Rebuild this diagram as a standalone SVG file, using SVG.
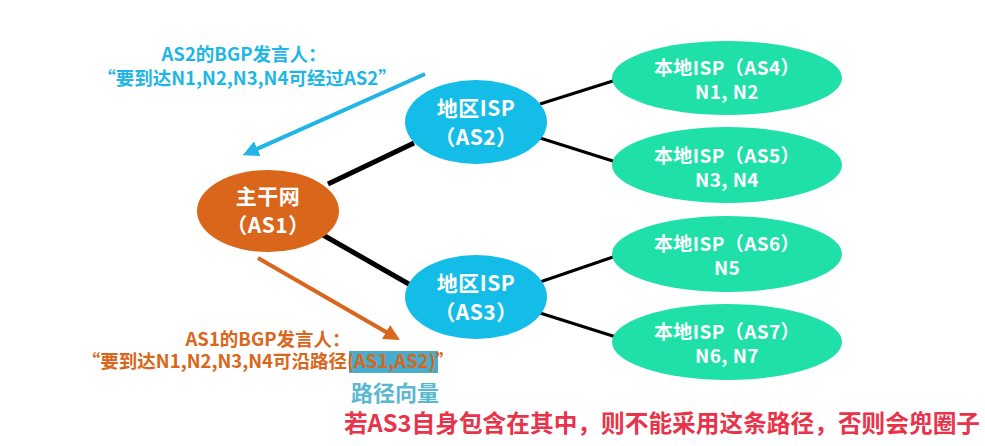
<svg xmlns="http://www.w3.org/2000/svg" width="985" height="446" viewBox="0 0 985 446">
<defs>
<style>
text{font-family:"Noto Sans CJK SC","Liberation Sans",sans-serif;font-weight:bold;text-anchor:middle}
.nt{fill:#fff;font-size:21px;letter-spacing:0.5px}
.gt{fill:#fff;font-size:19px;letter-spacing:0.4px}
.bl{fill:#1fb6e6;font-size:18.5px}
.or{fill:#d9661a;font-size:18.5px}
.thick{stroke:#000;stroke-width:5;fill:none}
.thin{stroke:#000;stroke-width:3;fill:none}
</style>
<marker id="ab" viewBox="0 0 10 10" refX="5" refY="5" markerWidth="4" markerHeight="4" orient="auto" markerUnits="strokeWidth"><path d="M0,0 L10,5 L0,10 Z" fill="#1fb6e6"/></marker>
<marker id="ao" viewBox="0 0 10 10" refX="5" refY="5" markerWidth="4" markerHeight="4" orient="auto" markerUnits="strokeWidth"><path d="M0,0 L10,5 L0,10 Z" fill="#d9661a"/></marker>
</defs>
<rect width="985" height="446" fill="#fff"/>
<g id="connectors">
<line class="thick" x1="328" y1="184" x2="414" y2="143"/>
<line class="thick" x1="323" y1="235" x2="414" y2="287"/>
<line class="thin" x1="540" y1="104" x2="616" y2="80"/>
<line class="thin" x1="540" y1="138" x2="616" y2="162"/>
<line class="thin" x1="540" y1="282" x2="616" y2="256"/>
<line class="thin" x1="540" y1="313" x2="616" y2="337"/>
<line x1="425" y1="74" x2="250" y2="152" stroke="#1fb6e6" stroke-width="4" marker-end="url(#ab)"/>
<line x1="258" y1="258" x2="393" y2="336" stroke="#d9661a" stroke-width="4" marker-end="url(#ao)"/>
</g>
<g id="AS1"><ellipse cx="268" cy="211" rx="71" ry="41" fill="#d9661a"/><text class="nt" x="268" y="204">主干网</text><text class="nt" x="268" y="233">（AS1）</text></g>
<g id="AS2"><ellipse cx="476" cy="122" rx="71" ry="42" fill="#14bde8"/><text class="nt" x="476" y="116">地区ISP</text><text class="nt" x="476" y="145">（AS2）</text></g>
<g id="AS3"><ellipse cx="476" cy="297" rx="71" ry="42" fill="#14bde8"/><text class="nt" x="476" y="291">地区ISP</text><text class="nt" x="476" y="320">（AS3）</text></g>
<g id="AS4"><ellipse cx="727" cy="78" rx="115" ry="37" fill="#1ee0a8"/><text class="gt" x="727" y="75">本地ISP（AS4）</text><text class="gt" x="727" y="99">N1, N2</text></g>
<g id="AS5"><ellipse cx="727" cy="165" rx="115" ry="38" fill="#1ee0a8"/><text class="gt" x="727" y="163">本地ISP（AS5）</text><text class="gt" x="727" y="187">N3, N4</text></g>
<g id="AS6"><ellipse cx="727" cy="254" rx="115" ry="38" fill="#1ee0a8"/><text class="gt" x="727" y="251">本地ISP（AS6）</text><text class="gt" x="727" y="275">N5</text></g>
<g id="AS7"><ellipse cx="727" cy="342" rx="115" ry="38" fill="#1ee0a8"/><text class="gt" x="727" y="339">本地ISP（AS7）</text><text class="gt" x="727" y="363">N6, N7</text></g>
<g id="labels">
<text class="bl" x="244" y="61">AS2的BGP发言人：</text>
<text class="bl" x="247" y="85">“要到达N1,N2,N3,N4可经过AS2”</text>
<rect x="349" y="351" width="89" height="22" fill="#4aaccc"/>
<text class="or" x="268" y="346">AS1的BGP发言人：</text>
<text class="or" x="268" y="368">“要到达N1,N2,N3,N4可沿路径(AS1,AS2)”</text>
<text x="395" y="401" font-size="22" fill="#5ab8d0" stroke="#fff" stroke-width="0.6" style="paint-order:stroke">路径向量</text>
<text x="662" y="432" font-size="23.7" fill="#e8334a" stroke="#fff" stroke-width="1" style="paint-order:stroke">若AS3自身包含在其中，则不能采用这条路径，否则会兜圈子</text>
</g>
</svg>
